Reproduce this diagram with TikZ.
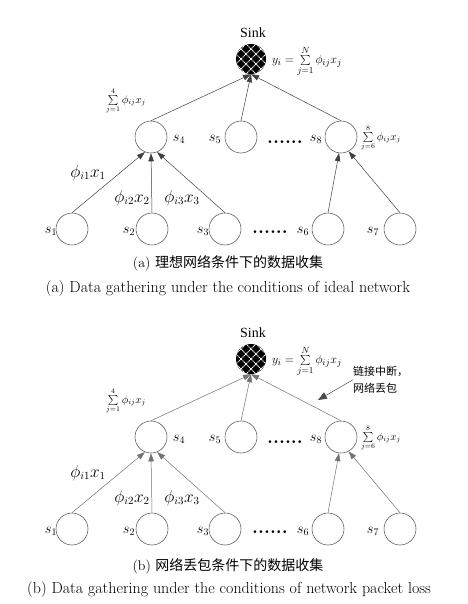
\documentclass[tikz,border=0pt]{standalone}
\usepackage{fontspec}
\newfontfamily\cjk{Noto Sans CJK SC}
\newfontfamily\tms{Liberation Serif}
\usetikzlibrary{arrows.meta,calc}
\tikzset{
  nd/.style={circle,draw=black!65,line width=0.55pt,minimum size=32pt,inner sep=0pt},
  sinknode/.style={circle,fill=black,minimum size=30pt,inner sep=0pt,
    path picture={
      \foreach \d in {-30,-20,...,30}{
        \draw[white,line width=0.8pt,dash pattern=on 1.2pt off 0.6pt] ($(path picture bounding box.center)+(\d pt,0pt)+(-20pt,-20pt)$) -- ++(40pt,40pt);
        \draw[white,line width=0.8pt,dash pattern=on 1.2pt off 0.6pt] ($(path picture bounding box.center)+(\d pt,0pt)+(-20pt,20pt)$) -- ++(40pt,-40pt);
      }}},
  sinklbl/.style={font=\tms\fontsize{14}{14}\selectfont,inner sep=0pt},
  slbl/.style={font=\fontsize{14}{14}\selectfont,inner sep=0pt},
  plbl/.style={font=\fontsize{16}{16}\selectfont,inner sep=0pt},
  fml/.style={font=\fontsize{12.5}{12.5}\selectfont,inner sep=0pt},
  sml/.style={font=\fontsize{10.5}{10.5}\selectfont,inner sep=0pt},
  dts/.style={font=\fontsize{19}{19}\selectfont\bfseries,inner sep=0pt,anchor=base},
  con/.style={line width=0.5pt,-{Triangle[length=8pt,width=5.5pt]}},
  capzh/.style={font=\fontsize{14}{14}\selectfont,inner sep=0pt},
  capen/.style={font=\fontsize{16}{16}\selectfont,inner sep=0pt},
}
\newcommand\drawnetwork[3]{%
\begin{scope}[shift={(0,#2)}]
  \node[sinknode] (#1sink) at (251,59) {};
  \node[sinklbl] (#1sinklbl) at (253,33) {Sink};
  \node[fml,anchor=west] (#1yi) at (272,61) {$y_i=\sum\limits_{j=1}^{N}\phi_{ij}x_j$};
  \node[nd] (#1s4) at (151,137) {};
  \node[nd] (#1s5) at (241,137) {};
  \node[nd] (#1s8) at (341,137) {};
  \node[nd] (#1s1) at (72,229) {};
  \node[nd] (#1s2) at (152,229) {};
  \node[nd] (#1s3) at (225,229) {};
  \node[nd] (#1s6) at (328,229) {};
  \node[nd] (#1s7) at (400,229) {};
  \node[slbl] (#1l4) at (179,139) {$s_4$};
  \node[slbl] (#1l5) at (215,139) {$s_5$};
  \node[slbl] (#1l8) at (316,139) {$s_8$};
  \node[slbl] (#1l1) at (51,231) {$s_1$};
  \node[slbl] (#1l2) at (129,231) {$s_2$};
  \node[slbl] (#1l3) at (203,231) {$s_3$};
  \node[slbl] (#1l6) at (303,231) {$s_6$};
  \node[slbl] (#1l7) at (373,231) {$s_7$};
  \node[dts] (#1d1) at (285,143) {......};
  \node[dts] (#1d2) at (270,233) {......};
  \node[sml] (#1sumL) at (126,101) {$\sum\limits_{j=1}^{4}\phi_{ij}x_j$};
  \node[sml] (#1sumR) at (381,138) {$\sum\limits_{j=6}^{8}\phi_{ij}x_j$};
  \node[plbl] (#1p1) at (88,173) {$\phi_{i1}x_1$};
  \node[plbl] (#1p2) at (132,198) {$\phi_{i2}x_2$};
  \node[plbl] (#1p3) at (182,198) {$\phi_{i3}x_3$};
  \begin{scope}[draw=#3]
  \draw[con] (#1s4.north) -- (#1sink.south);
  \draw[con] (#1s5.north) -- (#1sink.south);
  \draw[con] (#1s8.north) -- (#1sink.south);
  \draw[con] (#1s1.north) -- (#1s4.-112);
  \draw[con] (#1s2.north) -- (#1s4.south);
  \draw[con] (#1s3.north) -- (#1s4.-68);
  \draw[con] (#1s6.north) -- (#1s8.-97);
  \draw[con] (#1s7.north) -- (#1s8.-62);
  \end{scope}
\end{scope}}
\begin{document}
\begin{tikzpicture}[x=1pt,y=-1pt]
\useasboundingbox[fill=white] (0,0) rectangle (467,604);
\drawnetwork{a}{0}{black!75}
\drawnetwork{b}{300}{black!55}
\node[capzh] (capa) at (228,263) {(a) {\cjk 理想网络条件下的数据收集}};
\node[capen] (capae) at (228,289) {(a) Data gathering under the conditions of ideal network};
\node[capzh] (capb) at (228,566) {(b) {\cjk 网络丢包条件下的数据收集}};
\node[capen] (capbe) at (229,590) {(b) Data gathering under the conditions of network packet loss};
\node[font=\cjk\fontsize{11}{17}\selectfont,align=left,inner sep=0pt,anchor=north west] (brk) at (353,366) {链接中断，\\网络丢包};
\coordinate (brkpt) at (318,400);
\draw[black!70,line width=0.5pt,-{Triangle[length=9pt,width=7pt]}] (brk.west) -- (brkpt);
\end{tikzpicture}
\end{document}
